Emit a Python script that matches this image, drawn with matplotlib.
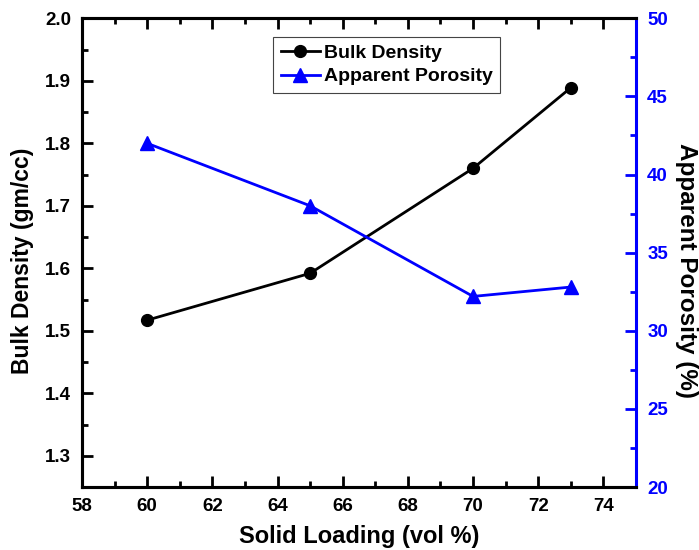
import matplotlib
matplotlib.use("Agg")
import matplotlib.pyplot as plt
from matplotlib.ticker import MultipleLocator
from matplotlib.lines import Line2D

plt.rcParams['font.family'] = ['Liberation Sans', 'DejaVu Sans']
plt.rcParams['font.weight'] = 'bold'

solid_loading = [60, 65, 70, 73]
bulk_density = [1.517, 1.592, 1.760, 1.889]
apparent_porosity = [42.0, 38.0, 32.2, 32.8]

fig = plt.figure(figsize=(6.99, 5.5), dpi=100)
ax = fig.add_axes([0.1173, 0.1145, 0.7926, 0.8522])
ax2 = ax.twinx()

ax.plot(solid_loading, bulk_density, color='black', lw=2, marker='o', ms=8.5, label='Bulk Density')
ax2.plot(solid_loading, apparent_porosity, color='blue', lw=2, marker='^', ms=10, label='Apparent Porosity')

ax.set_xlim(58, 75)
ax.set_ylim(1.25, 2.0)
ax2.set_ylim(20, 50)

ax.xaxis.set_major_locator(MultipleLocator(2))
ax.xaxis.set_minor_locator(MultipleLocator(1))
ax.set_yticks([1.3, 1.4, 1.5, 1.6, 1.7, 1.8, 1.9, 2.0])
ax.yaxis.set_minor_locator(MultipleLocator(0.05))
ax2.yaxis.set_major_locator(MultipleLocator(5))
ax2.yaxis.set_minor_locator(MultipleLocator(2.5))

ax.tick_params(axis='both', which='major', direction='in', length=8, width=2, labelsize=13.5, top=True, right=False)
ax.tick_params(axis='both', which='minor', direction='in', length=4.5, width=2, top=True, right=False)
ax.tick_params(axis='y', which='major', pad=8)
ax.tick_params(axis='x', which='major', pad=8)
ax2.tick_params(axis='y', which='major', direction='in', length=8, width=2, labelsize=13.5, colors='blue', pad=8)
ax2.tick_params(axis='y', which='minor', direction='in', length=4.5, width=2, colors='blue')

for s in ['left', 'bottom', 'top']:
    ax.spines[s].set_linewidth(2.2)
    ax2.spines[s].set_linewidth(2.2)
ax2.spines['right'].set_linewidth(2.2)
ax2.spines['right'].set_color('blue')
ax.spines['right'].set_visible(False)

for lab in ax.get_xticklabels() + ax.get_yticklabels() + ax2.get_yticklabels():
    lab.set_fontweight('bold')

ax.set_xlabel('Solid Loading (vol %)', fontsize=17, fontweight='bold', labelpad=7)
ax.set_ylabel('Bulk Density (gm/cc)', fontsize=16.5, fontweight='bold', labelpad=8)
ax2.set_ylabel('Apparent Porosity (%)', fontsize=17.5, fontweight='bold', rotation=270, labelpad=22, color='black')
ax.yaxis.label.set_y(0.482)
ax2.yaxis.label.set_y(0.463)

handles = [Line2D([], [], color='black', lw=2, marker='o', ms=8.5),
           Line2D([], [], color='blue', lw=2, marker='^', ms=10)]
leg = ax.legend(handles, ['Bulk Density', 'Apparent Porosity'], loc='upper center',
                bbox_to_anchor=(0.55, 0.961), fancybox=False, edgecolor='#444444',
                prop={'weight': 'bold', 'size': 14}, handlelength=2.0, handletextpad=0.2,
                borderpad=0.4, labelspacing=0.3, borderaxespad=0, framealpha=1)
leg.get_frame().set_linewidth(0.8)

fig.savefig('out.png', dpi=100)
